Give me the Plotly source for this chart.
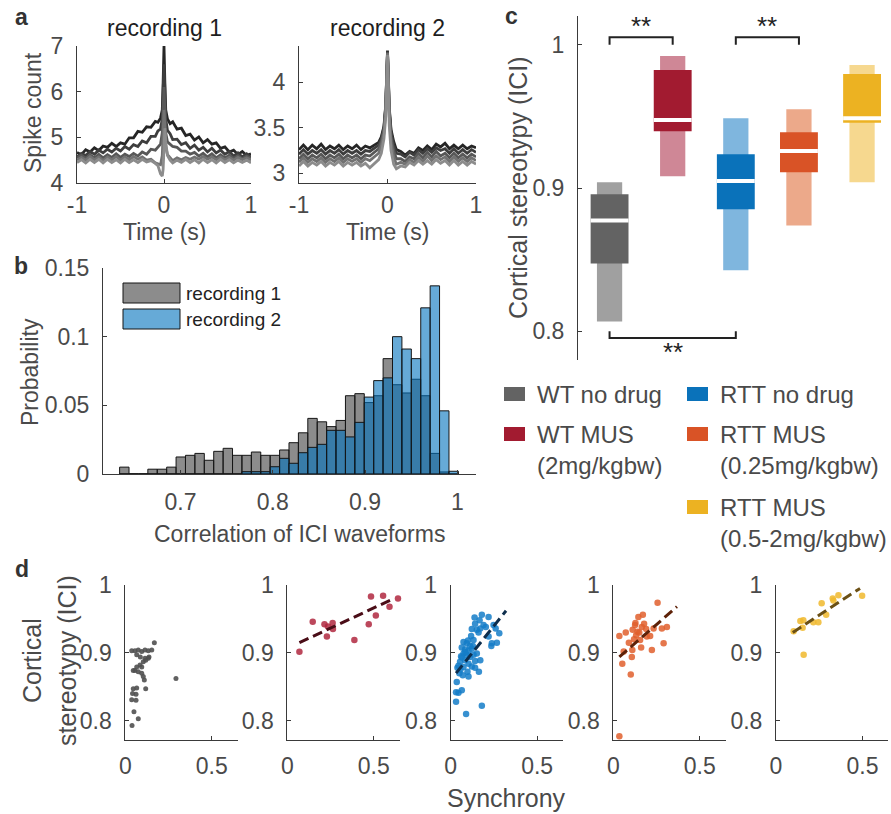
import plotly.graph_objects as go

W, H = 891, 814
def px(x): return x / W
def py(y): return 1 - y / H

FONT = "Liberation Sans, Arial, Helvetica, sans-serif"
TXT = "#4a4a4a"
AX = "#3a3a3a"

# ---------------- panel a : cross-correlograms ----------------
T = [-1.0, -0.95, -0.9, -0.85, -0.8, -0.75, -0.7, -0.65, -0.6, -0.55, -0.5, -0.45, -0.4, -0.35,
     -0.3, -0.25, -0.2, -0.15, -0.1, -0.07, -0.04, -0.02, -0.01, 0.0, 0.01, 0.02, 0.04, 0.07, 0.1,
     0.15, 0.2, 0.25, 0.3, 0.35, 0.4, 0.45, 0.5, 0.55, 0.6, 0.65, 0.7, 0.75, 0.8, 0.85, 0.9, 0.95, 1.0]

REC1_A = [4.67, 4.62, 4.73, 4.68, 4.77, 4.71, 4.81, 4.78, 4.87, 4.80, 4.88, 4.85, 4.99, 4.99, 5.13, 5.11,
          5.23, 5.22, 5.35, 5.33, 5.42, 5.60, 6.20, 7.00, 6.20, 5.60, 5.40, 5.30, 5.34, 5.18, 5.20, 5.04,
          5.07, 4.94, 5.01, 4.88, 4.95, 4.85, 4.88, 4.76, 4.79, 4.68, 4.72, 4.62, 4.69, 4.60, 4.64]
REC1_B = [4.57, 4.65, 4.60, 4.69, 4.63, 4.72, 4.66, 4.74, 4.68, 4.76, 4.70, 4.80, 4.74, 4.84, 4.80, 4.92,
          4.88, 5.02, 5.02, 5.14, 5.18, 5.40, 6.00, 6.60, 6.00, 5.40, 5.15, 5.08, 4.95, 4.96, 4.84, 4.88,
          4.76, 4.83, 4.72, 4.78, 4.68, 4.76, 4.66, 4.72, 4.63, 4.69, 4.59, 4.66, 4.57, 4.64, 4.56]
REC1_C = [4.55, 4.61, 4.54, 4.62, 4.55, 4.63, 4.55, 4.62, 4.56, 4.64, 4.56, 4.63, 4.58, 4.65, 4.59, 4.68,
          4.63, 4.74, 4.72, 4.78, 4.85, 5.10, 5.60, 6.10, 5.60, 5.10, 4.90, 4.86, 4.80, 4.78, 4.70, 4.70,
          4.63, 4.67, 4.59, 4.65, 4.57, 4.64, 4.55, 4.62, 4.55, 4.61, 4.54, 4.60, 4.53, 4.59, 4.54]
REC1_D = [4.50, 4.56, 4.50, 4.58, 4.51, 4.57, 4.49, 4.57, 4.51, 4.58, 4.50, 4.57, 4.51, 4.58, 4.52, 4.57,
          4.50, 4.52, 4.44, 4.42, 4.40, 4.60, 5.00, 5.60, 5.20, 4.80, 4.62, 4.55, 4.49, 4.55, 4.51, 4.56,
          4.52, 4.57, 4.52, 4.58, 4.52, 4.57, 4.51, 4.57, 4.51, 4.56, 4.50, 4.56, 4.51, 4.55, 4.50]
REC1_E = [4.45, 4.51, 4.44, 4.52, 4.45, 4.52, 4.44, 4.52, 4.45, 4.51, 4.44, 4.52, 4.45, 4.51, 4.45, 4.52,
          4.46, 4.49, 4.43, 4.38, 4.20, 4.15, 4.30, 4.90, 5.20, 4.90, 4.60, 4.50, 4.44, 4.50, 4.45, 4.52,
          4.45, 4.51, 4.44, 4.52, 4.45, 4.51, 4.44, 4.52, 4.45, 4.51, 4.44, 4.50, 4.45, 4.50, 4.44]

REC2_A = [3.26, 3.31, 3.26, 3.31, 3.27, 3.32, 3.26, 3.30, 3.27, 3.31, 3.26, 3.30, 3.27, 3.31, 3.26, 3.30,
          3.28, 3.31, 3.34, 3.40, 3.52, 3.75, 4.05, 4.35, 4.05, 3.72, 3.48, 3.35, 3.26, 3.24, 3.20, 3.24,
          3.22, 3.28, 3.25, 3.30, 3.26, 3.32, 3.29, 3.33, 3.27, 3.31, 3.27, 3.31, 3.27, 3.30, 3.28]
REC2_B = [3.21, 3.26, 3.21, 3.25, 3.22, 3.26, 3.21, 3.25, 3.22, 3.26, 3.21, 3.25, 3.22, 3.25, 3.21, 3.25,
          3.24, 3.28, 3.31, 3.38, 3.50, 3.74, 4.05, 4.34, 4.03, 3.70, 3.45, 3.31, 3.22, 3.21, 3.18, 3.23,
          3.20, 3.26, 3.22, 3.27, 3.23, 3.28, 3.25, 3.27, 3.22, 3.27, 3.22, 3.26, 3.22, 3.26, 3.23]
REC2_C = [3.16, 3.21, 3.16, 3.20, 3.17, 3.21, 3.16, 3.20, 3.17, 3.21, 3.16, 3.20, 3.17, 3.20, 3.16, 3.20,
          3.19, 3.23, 3.27, 3.35, 3.48, 3.72, 4.04, 4.33, 4.02, 3.68, 3.40, 3.25, 3.16, 3.16, 3.13, 3.18,
          3.16, 3.22, 3.17, 3.23, 3.18, 3.24, 3.19, 3.22, 3.17, 3.22, 3.17, 3.21, 3.17, 3.21, 3.18]
REC2_D = [3.12, 3.17, 3.12, 3.16, 3.13, 3.17, 3.12, 3.16, 3.13, 3.17, 3.12, 3.16, 3.13, 3.16, 3.12, 3.16,
          3.14, 3.18, 3.22, 3.30, 3.44, 3.70, 4.02, 4.32, 4.00, 3.64, 3.34, 3.18, 3.10, 3.12, 3.10, 3.15,
          3.12, 3.18, 3.13, 3.19, 3.14, 3.19, 3.15, 3.18, 3.13, 3.18, 3.13, 3.17, 3.13, 3.17, 3.14]
REC2_E = [3.08, 3.13, 3.08, 3.12, 3.09, 3.13, 3.08, 3.12, 3.09, 3.13, 3.08, 3.12, 3.09, 3.12, 3.08, 3.11,
          3.06, 3.11, 3.15, 3.22, 3.38, 3.62, 3.98, 4.30, 3.92, 3.52, 3.25, 3.10, 3.05, 3.08, 3.07, 3.12,
          3.09, 3.14, 3.10, 3.14, 3.10, 3.15, 3.11, 3.14, 3.09, 3.14, 3.09, 3.13, 3.09, 3.13, 3.10]

REC1 = [REC1_A, REC1_B, REC1_C, REC1_D, REC1_E]
REC2 = [REC2_A, REC2_B, REC2_C, REC2_D, REC2_E]
TRACE_COLORS = ["#262626", "#3e3e3e", "#585858", "#727272", "#8c8c8c"]

# ---------------- panel b : histogram ----------------
HIST_EDGE0 = 0.634
HIST_BINW = 0.0102
REC1_PROB = [0.005, 0.0, 0.0, 0.0035, 0.0035, 0.005, 0.0124, 0.0136, 0.015, 0.010, 0.0165, 0.0187,
             0.0136, 0.0136, 0.016, 0.0136, 0.0136, 0.0175, 0.0228, 0.030, 0.0405, 0.038, 0.0345, 0.039,
             0.057, 0.0585, 0.052, 0.057, 0.084, 0.065, 0.059, 0.069, 0.057, 0.015, 0.0015, 0.0]
REC2_PROB = [0.0, 0.0, 0.0, 0.0, 0.0, 0.0, 0.0, 0.0, 0.0, 0.0, 0.0, 0.0,
             0.0, 0.0017, 0.0017, 0.0017, 0.0053, 0.0114, 0.0078, 0.0155, 0.0194, 0.0216, 0.0318, 0.0318,
             0.027, 0.0376, 0.056, 0.068, 0.070, 0.100, 0.091, 0.084, 0.121, 0.137, 0.046, 0.002]

# ---------------- panel c : stereotypy per group ----------------
GROUPS = ["WT no drug", "WT MUS<br>(2mg/kgbw)", "RTT no drug", "RTT MUS<br>(0.25mg/kgbw)", "RTT MUS<br>(0.5-2mg/kgbw)"]
GROUP_POS = [1, 2, 3, 4, 5]
OUTER_LO = [0.8068, 0.9082, 0.8427, 0.8739, 0.9040]
OUTER_HI = [0.9040, 0.9921, 0.9487, 0.9550, 0.9858]
INNER_LO = [0.8473, 0.9396, 0.8851, 0.9110, 0.9455]
INNER_HI = [0.8956, 0.9823, 0.9235, 0.9389, 0.9795]
MEDIAN = [0.8774, 0.9474, 0.9048, 0.9258, 0.9487]
DARK = ["#636363", "#A21B30", "#0A72BA", "#D95326", "#ECB222"]
LIGHT = ["#A0A0A0", "#CF8796", "#7FB6DE", "#ECA98A", "#F6D88F"]
SIG_PAIRS = [(1, 2), (3, 4), (1, 3)]
SIG_LEVEL = [1.0052, 1.0052, 0.7953]
SIG_BASE = [1.0, 1.0, 0.8]
SIG_TEXT_Y = [1.0131, 1.0131, 0.7855]

# ---------------- panel d : stereotypy vs synchrony ----------------
WT_X = [0.168, 0.293, 0.037, 0.056, 0.075, 0.095, 0.114, 0.133, 0.153, 0.066, 0.087, 0.114, 0.133, 0.104,
        0.085, 0.066, 0.046, 0.056, 0.075, 0.095, 0.104, 0.110, 0.118, 0.046, 0.066, 0.042, 0.062, 0.037,
        0.062, 0.050, 0.075, 0.039, 0.095, 0.118, 0.137]
WT_Y = [0.915, 0.862, 0.903, 0.903, 0.904, 0.902, 0.904, 0.903, 0.904, 0.897, 0.894, 0.892, 0.892, 0.887,
        0.882, 0.879, 0.874, 0.874, 0.872, 0.870, 0.865, 0.860, 0.847, 0.847, 0.848, 0.840, 0.839, 0.831,
        0.830, 0.813, 0.803, 0.793, 0.879, 0.889, 0.894]
WTMUS_X = [0.070, 0.147, 0.215, 0.229, 0.235, 0.262, 0.264, 0.388, 0.471, 0.484, 0.512, 0.554, 0.591, 0.640]
WTMUS_Y = [0.9015, 0.946, 0.942, 0.924, 0.939, 0.944, 0.935, 0.919, 0.942, 0.983, 0.955, 0.984, 0.968, 0.980]
RTT_X = [0.138, 0.180, 0.219, 0.167, 0.141, 0.122, 0.151, 0.171, 0.190, 0.203, 0.219, 0.235, 0.248, 0.260,
         0.281, 0.267, 0.238, 0.161, 0.132, 0.074, 0.093, 0.112, 0.064, 0.083, 0.103, 0.122, 0.074, 0.093,
         0.064, 0.112, 0.132, 0.151, 0.171, 0.141, 0.083, 0.054, 0.103, 0.122, 0.039, 0.056, 0.074, 0.097,
         0.050, 0.163, 0.141, 0.035, 0.070, 0.103, 0.031, 0.045, 0.064, 0.031, 0.089, 0.180, 0.045, 0.085,
         0.100, 0.118, 0.060, 0.128]
RTT_Y = [0.952, 0.956, 0.953, 0.948, 0.943, 0.935, 0.934, 0.936, 0.941, 0.938, 0.924, 0.910, 0.941, 0.936,
         0.929, 0.915, 0.914, 0.930, 0.919, 0.916, 0.914, 0.910, 0.908, 0.905, 0.903, 0.906, 0.899, 0.897,
         0.893, 0.894, 0.897, 0.899, 0.889, 0.888, 0.889, 0.887, 0.884, 0.880, 0.878, 0.875, 0.879, 0.872,
         0.870, 0.872, 0.878, 0.857, 0.867, 0.865, 0.842, 0.841, 0.845, 0.828, 0.810, 0.822, 0.881, 0.901,
         0.918, 0.925, 0.895, 0.910]
RTTMUS_X = [0.035, 0.052, 0.072, 0.101, 0.107, 0.110, 0.112, 0.126, 0.132, 0.145, 0.140, 0.155, 0.165, 0.171,
            0.178, 0.161, 0.194, 0.213, 0.223, 0.233, 0.256, 0.281, 0.291, 0.310, 0.035, 0.120, 0.090, 0.150,
            0.128, 0.190, 0.060]
RTTMUS_Y = [0.925, 0.884, 0.930, 0.868, 0.894, 0.904, 0.934, 0.941, 0.926, 0.953, 0.931, 0.919, 0.938, 0.956,
            0.943, 0.908, 0.924, 0.925, 0.904, 0.936, 0.974, 0.936, 0.914, 0.938, 0.777, 0.920, 0.915, 0.930,
            0.944, 0.935, 0.902]
RTTMUS2_X = [0.102, 0.141, 0.158, 0.154, 0.160, 0.216, 0.245, 0.264, 0.290, 0.328, 0.332, 0.361, 0.498]
RTTMUS2_Y = [0.932, 0.947, 0.948, 0.937, 0.897, 0.945, 0.945, 0.973, 0.956, 0.980, 0.977, 0.985, 0.984]

FIT_X = [None, [0.070, 0.616], [0.031, 0.320], [0.035, 0.368], [0.097, 0.486]]
FIT_Y = [None, [0.915, 0.980], [0.870, 0.962], [0.894, 0.968], [0.930, 0.995]]
SCAT_X = [WT_X, WTMUS_X, RTT_X, RTTMUS_X, RTTMUS2_X]
SCAT_Y = [WT_Y, WTMUS_Y, RTT_Y, RTTMUS_Y, RTTMUS2_Y]
SCAT_COL = ["rgba(80,80,80,0.9)", "rgba(176,40,64,0.85)", "rgba(20,125,200,0.85)",
            "rgba(225,95,45,0.85)", "rgba(240,185,45,0.85)"]
FIT_COL = [None, "#4a0d17", "#0e2e4d", "#5e2208", "#6b5015"]

# ======================================================================
fig = go.Figure()

def ax(**kw):
    d = dict(showline=True, linecolor=AX, linewidth=1, ticks="inside", ticklen=4, tickwidth=1,
             tickcolor=AX, showgrid=False, zeroline=False, fixedrange=True, automargin=False,
             tickfont=dict(family=FONT, size=23, color=TXT))
    d.update(kw)
    return d

layout = {}
# panel a
layout["xaxis"] = ax(domain=[px(77), px(251)], anchor="y", range=[-1, 1], tickvals=[-1, 0, 1],
                     ticktext=["-1", "0", "1"], ticklabelstandoff=1)
layout["yaxis"] = ax(domain=[py(183), py(46)], anchor="x", range=[4, 7], tickvals=[4, 5, 6, 7],
                     ticktext=["4", "5", "6", "7"], ticklabelstandoff=8)
layout["xaxis2"] = ax(domain=[px(299), px(476)], anchor="y2", range=[-1, 1], tickvals=[-1, 0, 1],
                      ticktext=["-1", "0", "1"], ticklabelstandoff=1)
layout["yaxis2"] = ax(domain=[py(183), py(46)], anchor="x2", range=[2.893, 4.40], tickvals=[3, 3.5, 4],
                      ticktext=["3", "3.5", "4"], ticklabelstandoff=8)
# panel b
layout["xaxis3"] = ax(domain=[px(103), px(476)], anchor="y3", range=[0.616, 1.0203],
                      tickvals=[0.7, 0.8, 0.9, 1.0], ticktext=["0.7", "0.8", "0.9", "1"], ticklabelstandoff=7)
layout["yaxis3"] = ax(domain=[py(474), py(268)], anchor="x3", range=[0, 0.15],
                      tickvals=[0, 0.05, 0.1, 0.15], ticktext=["0", "0.05", "0.1", "0.15"], ticklabelstandoff=8)
# panel c
layout["xaxis4"] = dict(domain=[px(578), px(881)], anchor="y4", range=[0.5, 5.3], visible=False,
                        fixedrange=True, automargin=False)
layout["yaxis4"] = ax(domain=[py(360), py(16)], anchor="x4", range=[0.78, 1.02],
                      tickvals=[0.8, 0.9, 1.0], ticktext=["0.8", "0.9", "1"], ticklabelstandoff=8)
# panel d
D_LEFT = [125.3, 287.3, 450.7, 613.3, 776.0]
for i, L in enumerate(D_LEFT):
    n = 5 + i
    layout[f"xaxis{n}"] = ax(domain=[px(L), px(L + 112.4)], anchor=f"y{n}", range=[0, 0.65],
                             tickvals=[0, 0.5], ticktext=["0", "0.5"], ticklabelstandoff=5)
    layout[f"yaxis{n}"] = ax(domain=[py(740), py(585)], anchor=f"x{n}", range=[0.7715, 1.0],
                             tickvals=[0.8, 0.9, 1.0], ticktext=["0.8", "0.9", "1"], ticklabelstandoff=8)

# --- panel a traces
for k, ys in enumerate(REC1):
    fig.add_trace(go.Scatter(x=T, y=ys, mode="lines", line=dict(color=TRACE_COLORS[k], width=2.8),
                             xaxis="x", yaxis="y", showlegend=False, hoverinfo="skip"))
for k, ys in enumerate(REC2):
    fig.add_trace(go.Scatter(x=T, y=ys, mode="lines", line=dict(color=TRACE_COLORS[k], width=2.8),
                             xaxis="x2", yaxis="y2", showlegend=False, hoverinfo="skip"))

# --- panel b histogram
centers = [HIST_EDGE0 + HIST_BINW * (i + 0.5) for i in range(len(REC1_PROB))]
GRAY_FILL = "rgba(64,64,64,0.6)"
BLUE_FILL = "rgba(0,114,189,0.6)"
fig.add_trace(go.Bar(x=centers, y=REC1_PROB, width=HIST_BINW, xaxis="x3", yaxis="y3",
                     marker=dict(color=GRAY_FILL, line=dict(color="#151515", width=1)), showlegend=False))
fig.add_trace(go.Bar(x=centers, y=REC2_PROB, width=HIST_BINW, xaxis="x3", yaxis="y3",
                     marker=dict(color=BLUE_FILL, line=dict(color="#151515", width=1)), showlegend=False))

# --- panel c boxes
fig.add_trace(go.Bar(x=GROUP_POS, base=OUTER_LO, y=[h - l for h, l in zip(OUTER_HI, OUTER_LO)], width=0.4,
                     marker=dict(color=LIGHT, line=dict(width=0)), xaxis="x4", yaxis="y4", showlegend=False))
fig.add_trace(go.Bar(x=GROUP_POS, base=INNER_LO, y=[h - l for h, l in zip(INNER_HI, INNER_LO)], width=0.6,
                     marker=dict(color=DARK, line=dict(width=0)), xaxis="x4", yaxis="y4", showlegend=False))
mx, my = [], []
for g, m in zip(GROUP_POS, MEDIAN):
    mx += [g - 0.3, g + 0.3, None]
    my += [m, m, None]
fig.add_trace(go.Scatter(x=mx, y=my, mode="lines", line=dict(color="white", width=4),
                         xaxis="x4", yaxis="y4", showlegend=False, hoverinfo="skip"))
bx, by = [], []
for (g1, g2), lev, base in zip(SIG_PAIRS, SIG_LEVEL, SIG_BASE):
    bx += [g1, g1, g2, g2, None]
    by += [base, lev, lev, base, None]
fig.add_trace(go.Scatter(x=bx, y=by, mode="lines", line=dict(color="#222222", width=2),
                         xaxis="x4", yaxis="y4", showlegend=False, hoverinfo="skip", cliponaxis=False))

# --- panel d scatters (markers first, then dashed fit lines on top)
for i in range(5):
    n = 5 + i
    fig.add_trace(go.Scatter(x=SCAT_X[i], y=SCAT_Y[i], mode="markers",
                             marker=dict(color=SCAT_COL[i], size=5 if i == 0 else 6.5, line=dict(width=0)),
                             xaxis=f"x{n}", yaxis=f"y{n}", showlegend=False, hoverinfo="skip", cliponaxis=False))
for i in range(1, 5):
    n = 5 + i
    fig.add_trace(go.Scatter(x=FIT_X[i], y=FIT_Y[i], mode="lines",
                             line=dict(color=FIT_COL[i], width=3, dash="10px,5px"),
                             xaxis=f"x{n}", yaxis=f"y{n}", showlegend=False, hoverinfo="skip"))

# ---------------- annotations / shapes ----------------
ann = []
shapes = []
def text(x, y, s, size=22, color=TXT, angle=0, xanchor="center", bold=False):
    ann.append(dict(x=px(x), y=py(y), xref="paper", yref="paper", text=(f"<b>{s}</b>" if bold else s),
                    showarrow=False, textangle=angle, xanchor=xanchor, yanchor="middle",
                    font=dict(family=FONT, size=size, color=color)))

# panel letters
text(21, 17, "a", 23, "#333333", bold=True)
text(21, 266, "b", 23, "#333333", bold=True)
text(511, 16, "c", 23, "#333333", bold=True)
text(22, 569, "d", 23, "#333333", bold=True)
# panel a
text(164, 28, "recording 1", 23, "#1e1e1e")
text(387, 28, "recording 2", 23, "#1e1e1e")
text(33, 113, "Spike count", 23, TXT, angle=-90)
text(164, 232, "Time (s)", 23, TXT)
text(387, 232, "Time (s)", 23, TXT)
# panel b
text(30, 372, "Probability", 23, TXT, angle=-90)
text(299, 534, "Correlation of ICI waveforms", 23, TXT)
shapes.append(dict(type="rect", xref="paper", yref="paper", x0=px(123), x1=px(180), y0=py(303), y1=py(283),
                   fillcolor=GRAY_FILL, line=dict(color="#151515", width=1)))
shapes.append(dict(type="rect", xref="paper", yref="paper", x0=px(123), x1=px(180), y0=py(329), y1=py(309),
                   fillcolor=BLUE_FILL, line=dict(color="#151515", width=1)))
text(184, 293, "recording 1", 19, "#222222", xanchor="left")
text(184, 319, "recording 2", 19, "#222222", xanchor="left")
# panel c
text(518, 188, "Cortical stereotypy (ICI)", 25, TXT, angle=-90)
for (g1, g2), ty in zip(SIG_PAIRS, SIG_TEXT_Y):
    ann.append(dict(x=(g1 + g2) / 2, y=ty, xref="x4", yref="y4", text="**", showarrow=False,
                    xanchor="center", yanchor="middle", font=dict(family=FONT, size=26, color="#222222")))
# legend for panel c
LEG_POS = [(504, 394), (504, 434), (687, 394), (687, 434), (687, 507)]
for (lx, ly), col, lab in zip(LEG_POS, DARK, GROUPS):
    shapes.append(dict(type="rect", xref="paper", yref="paper", x0=px(lx), x1=px(lx + 21),
                       y0=py(ly + 7), y1=py(ly - 7), fillcolor=col, line=dict(width=0)))
    parts = lab.split("<br>")
    text(lx + 31, ly, parts[0], 24, TXT, xanchor="left")
    if len(parts) > 1:
        text(lx + 31, ly + 31, parts[1], 24, TXT, xanchor="left")
# panel d
text(32, 661, "Cortical", 25, TXT, angle=-90)
text(67, 661, "stereotypy (ICI)", 25, TXT, angle=-90)
text(506, 798, "Synchrony", 25, TXT)

fig.update_layout(template="none")
fig.update_layout(**layout)
fig.update_layout(width=W, height=H, margin=dict(l=0, r=0, t=0, b=0, pad=0), autosize=False,
                  paper_bgcolor="white", plot_bgcolor="rgba(0,0,0,0)", barmode="overlay",
                  annotations=ann, shapes=shapes, showlegend=False,
                  font=dict(family=FONT, color=TXT))
fig.write_html("out.html", config={"displayModeBar": False, "staticPlot": True},
               post_script="document.documentElement.style.margin='0';document.body.style.margin='0';"
                           "document.body.style.padding='0';document.body.style.overflow='hidden';")
